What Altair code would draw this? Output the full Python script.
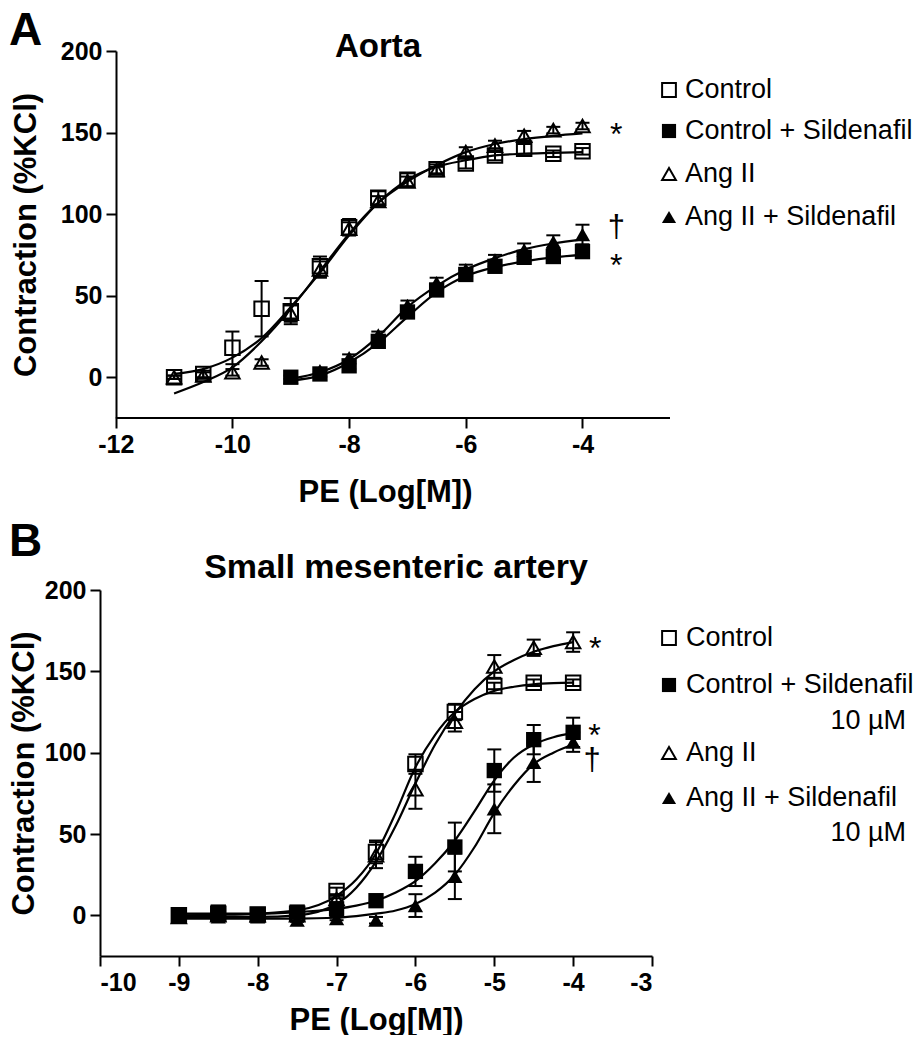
import altair as alt
import pandas as pd

FONT = "Liberation Sans"
SERIES = ["Control", "Control + Sildenafil", "Ang II", "Ang II + Sildenafil"]
SHAPES = ["square", "square", "triangle-up", "triangle-up"]

# ---------------- Panel A : Aorta ----------------
a_x = [-11, -10.5, -10, -9.5, -9, -8.5, -8, -7.5, -7, -6.5, -6, -5.5, -5, -4.5, -4]
a_ctrl = [0, 2, 18, 42, 40.5, 68, 92, 110, 121, 127.5, 131, 136, 140, 137, 138.5]
a_ctrl_err = [1, 2, 10, 17, 8, 6, 5, 4, 4, 3, 3, 3, 3, 2, 2]
a_ang = [0, 1, 3, 9, 39, 66, 91, 108, 120, 127, 138, 142, 148, 151.5, 154]
a_ang_err = [1, 2, 2, 2, 5, 5, 4, 3, 3, 2, 3, 3, 3, 2, 2]
a_xs = [-9, -8.5, -8, -7.5, -7, -6.5, -6, -5.5, -5, -4.5, -4]
a_ctrl_sild = [0, 2, 7, 22, 40, 53.5, 63, 68, 73.5, 74, 77]
a_ctrl_sild_err = [1, 1, 2, 3, 3, 3, 3, 3, 3, 3, 3]
a_ang_sild = [0, 4, 12, 26, 44, 58, 66, 72, 78, 83, 87.5]
a_ang_sild_err = [1, 1, 2, 2, 3, 3, 3, 3, 4, 4, 6]
# fitted curves
a_fit_ctrl = [2, 5, 12, 24, 43, 64, 87, 107, 121, 129, 133, 136, 137, 137.5, 138]
a_fit_ang = [-10, -3, 6, 22, 42, 65, 88, 107, 120, 130, 138, 143, 146, 148, 149.5]
a_fit_ctrl_sild = [-2, 1, 9, 21, 37, 52, 62, 67.5, 71, 73.5, 75]
a_fit_ang_sild = [-1, 3, 11, 25, 43, 56, 66, 73, 78.5, 82, 84.5]
a_ann_x = [-3.42, -3.42, -3.42]
a_ann_y = [154, 93, 74]
a_ann_text = ["*", "†", "*"]
a_xticks = [-12, -10, -8, -6, -4]
a_axis_range = [-12, -2.5]      # extent of the drawn x axis line
a_view_dom = [-12.27, -2.5]     # view extends a little left of the y axis

# ---------------- Panel B : Small mesenteric artery ----------------
b_x = [-9, -8.5, -8, -7.5, -7, -6.5, -6, -5.5, -5, -4.5, -4]
b_ctrl = [0, 1, 0.5, 1, 15, 39, 93, 125, 141, 143, 143]
b_ctrl_err = [1, 1, 1, 1, 2, 7, 6, 5, 2, 2, 2]
b_ang = [-1, 0, 0, 0, 10, 37, 77.5, 119, 153, 164.5, 168]
b_ang_err = [1, 1, 1, 1, 2, 8, 12, 6, 7, 5, 6]
b_ctrl_sild = [0, 2, 0.5, 2, 4, 9, 27, 42, 89, 108, 112.5]
b_ctrl_sild_err = [1, 1, 1, 1, 2, 3, 9, 15, 13, 9, 9]
b_ang_sild = [-1, -1, -1, -3, -2, -3, 6, 24, 65.5, 94, 106.5]
b_ang_sild_err = [1, 1, 1, 1, 1, 2, 7, 14, 15, 12, 6]
b_fit_x = [-9, -8.5, -8, -7.5, -7, -6.75, -6.5, -6.25, -6, -5.75, -5.5, -5.25, -5, -4.75, -4.5, -4.25, -4]
b_fit_ctrl = [0, 0.3, 1, 3, 12, 22, 38, 63, 91, 111, 125, 133, 138, 140.5, 142, 142.7, 143]
b_fit_ang = [-1, -1, -1, 0, 7, 17, 33, 55, 81, 105, 124, 139, 150, 157, 162, 165.5, 168]
b_fit_ctrl_sild = [1, 1, 1, 2, 4, 6, 9, 14, 21, 32, 46, 64, 83, 97, 105, 109.5, 112]
b_fit_ang_sild = [-2, -2, -2, -2, -1.5, -0.5, 1, 3, 7, 14, 25, 42, 63, 80, 93, 100, 105]
b_ann_x = [-3.72, -3.73, -3.76]
b_ann_y = [169, 116, 96]
b_ann_text = ["*", "*", "†"]
b_xticks = [-10, -9, -8, -7, -6, -5, -4, -3]
b_view_dom = [-10, -3]

Y_TICKS = [0, 50, 100, 150, 200]
Y_DOM = [-25, 200]


def points_frame(xs_list, ys_list, errs_list):
    rows = []
    for s, xs, ys, es in zip(SERIES, xs_list, ys_list, errs_list):
        for x, y, e in zip(xs, ys, es):
            rows.append({"x": x, "y": y, "lo": y - e, "hi": y + e, "series": s})
    return pd.DataFrame(rows)


def fits_frame(xs_list, ys_list):
    rows = []
    for s, xs, ys in zip(SERIES, xs_list, ys_list):
        for x, y in zip(xs, ys):
            rows.append({"x": x, "y": y, "series": s})
    return pd.DataFrame(rows)


one = pd.DataFrame({"k": [0]})


def txt(t, px, py, size, weight="normal", align="left", baseline="middle"):
    return alt.Chart(one).mark_text(
        text=t, font=FONT, fontSize=size, fontWeight=weight, align=align,
        baseline=baseline, color="black"
    ).encode(x=alt.value(px), y=alt.value(py))


def sym(shape, filled, px, py, size):
    return alt.Chart(one).mark_point(
        shape=shape, filled=filled, color="black", opacity=1, size=size, strokeWidth=2
    ).encode(x=alt.value(px), y=alt.value(py))


def build_panel(pts, fits, ann, view_dom, xticks, w, h, y_off, ytpad, xlpad, xtpad,
                extras, axis_range=None):
    xaxis = alt.Axis(values=xticks, title="PE (Log[M])", format="d",
                     labelPadding=xlpad, titlePadding=xtpad, domain=axis_range is None,
                     labelExpr="replace(datum.label, '\u2212', '-')")

    def X(f):
        return alt.X(f"{f}:Q", scale=alt.Scale(domain=view_dom, nice=False, zero=False), axis=xaxis)

    def Y(f):
        return alt.Y(f"{f}:Q", scale=alt.Scale(domain=Y_DOM, nice=False, zero=False),
                     axis=alt.Axis(values=Y_TICKS, title="Contraction (%KCl)", offset=y_off,
                                   labelPadding=4, titlePadding=ytpad))

    shape = alt.Shape("series:N", scale=alt.Scale(domain=SERIES, range=SHAPES), legend=None)

    lines = alt.Chart(fits).mark_line(color="black", strokeWidth=2.2, interpolate="monotone").encode(
        x=X("x"), y=Y("y"), detail="series:N")
    rules = alt.Chart(pts).mark_rule(color="black", strokeWidth=2).encode(
        x=X("x"), y=Y("lo"), y2="hi:Q")
    cap_lo = alt.Chart(pts).mark_tick(orient="horizontal", size=14, thickness=2, color="black", opacity=1).encode(
        x=X("x"), y=Y("lo"))
    cap_hi = alt.Chart(pts).mark_tick(orient="horizontal", size=14, thickness=2, color="black", opacity=1).encode(
        x=X("x"), y=Y("hi"))
    open_pts = alt.Chart(pts).transform_filter(
        alt.FieldOneOfPredicate(field="series", oneOf=["Control", "Ang II"])
    ).mark_point(filled=False, color="black", opacity=1, size=210, strokeWidth=2).encode(
        x=X("x"), y=Y("y"), shape=shape)
    fill_pts = alt.Chart(pts).transform_filter(
        alt.FieldOneOfPredicate(field="series", oneOf=["Control + Sildenafil", "Ang II + Sildenafil"])
    ).mark_point(filled=True, color="black", opacity=1, size=235).encode(
        x=X("x"), y=Y("y"), shape=shape)
    stars = alt.Chart(ann).transform_filter("datum.t == '*'").mark_text(
        font=FONT, fontSize=32, align="center", baseline="middle", dy=9, color="black").encode(
        x=X("x"), y=Y("y"), text="t:N")
    daggers = alt.Chart(ann).transform_filter("datum.t != '*'").mark_text(
        font=FONT, fontSize=31, align="center", baseline="middle", dy=2, color="black").encode(
        x=X("x"), y=Y("y"), text="t:N")
    layers = [lines, rules, cap_lo, cap_hi, open_pts, fill_pts, stars, daggers]
    if axis_range is not None:
        axis_df = pd.DataFrame({"x": [axis_range[0]], "x2": [axis_range[1]], "y": [Y_DOM[0]]})
        layers.append(alt.Chart(axis_df).mark_rule(color="black", strokeWidth=2).encode(
            x=X("x"), x2="x2:Q", y=Y("y")))
    layers += extras
    return alt.layer(*layers).properties(width=w, height=h)


# Panel A
ptsA = points_frame([a_x, a_xs, a_x, a_xs], [a_ctrl, a_ctrl_sild, a_ang, a_ang_sild],
                    [a_ctrl_err, a_ctrl_sild_err, a_ang_err, a_ang_sild_err])
fitsA = fits_frame([a_x, a_xs, a_x, a_xs], [a_fit_ctrl, a_fit_ctrl_sild, a_fit_ang, a_fit_ang_sild])
annA = pd.DataFrame({"x": a_ann_x, "y": a_ann_y, "t": a_ann_text})

legA_sx, legA_tx = 569, 585
legA_rows = [39, 80, 123, 166]
extrasA = [
    txt("A", -91, -42, 46, "bold", "left", "top"),
    txt("Aorta", 278, 6, 33, "bold", "center", "alphabetic"),
]
for lab, shp, fl, yy in zip(SERIES, SHAPES, [False, True, False, True], legA_rows):
    extrasA.append(sym(shp, fl, legA_sx, yy, 190 if not fl else 200))
    extrasA.append(txt(lab, legA_tx, yy, 27))

panelA = build_panel(ptsA, fitsA, annA, a_view_dom, a_xticks, 570, 367, -16, 18, 4, 20,
                     extrasA, axis_range=a_axis_range)

# Panel B
ptsB = points_frame([b_x] * 4, [b_ctrl, b_ctrl_sild, b_ang, b_ang_sild],
                    [b_ctrl_err, b_ctrl_sild_err, b_ang_err, b_ang_sild_err])
fitsB = fits_frame([b_fit_x] * 4, [b_fit_ctrl, b_fit_ctrl_sild, b_fit_ang, b_fit_ang_sild])
annB = pd.DataFrame({"x": b_ann_x, "y": b_ann_y, "t": b_ann_text})

legB_sx, legB_tx, legB_rx = 569, 586, 806
legB_rows = [48, 95, 163, 208]
extrasB = [
    txt("B", -91, -70, 46, "bold", "left", "top"),
    txt("Small mesenteric artery", 296, -12, 34, "bold", "center", "alphabetic"),
    txt("10 µM", legB_rx, 131, 27, "normal", "right"),
    txt("10 µM", legB_rx, 243, 27, "normal", "right"),
]
for lab, shp, fl, yy in zip(SERIES, SHAPES, [False, True, False, True], legB_rows):
    extrasB.append(sym(shp, fl, legB_sx, yy, 190 if not fl else 200))
    extrasB.append(txt(lab, legB_tx, yy, 27))

panelB = build_panel(ptsB, fitsB, annB, b_view_dom, b_xticks, 552, 366, 0, 4, 4, 10, extrasB)

chart = alt.vconcat(panelA, panelB, spacing=12).properties(
    padding=0
).configure_view(stroke=None).configure_axis(
    grid=False, domainColor="black", domainWidth=2, tickColor="black", tickWidth=2,
    tickSize=10, labelFont=FONT, labelFontSize=25, labelFontWeight="bold",
    labelColor="black", titleFont=FONT, titleFontSize=31, titleFontWeight="bold",
    titleColor="black"
)

chart.save("out.html", embed_options={"renderer": "svg", "actions": False})
